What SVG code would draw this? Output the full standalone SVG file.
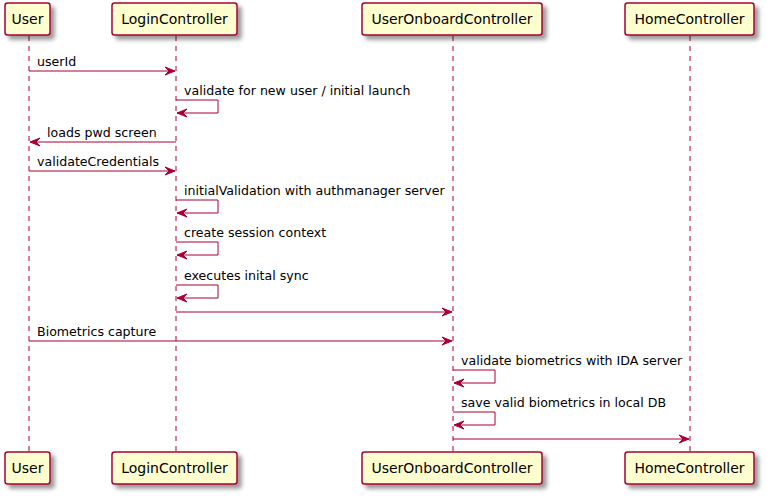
<svg xmlns="http://www.w3.org/2000/svg" width="767" height="499" viewBox="0 0 767 499">
<defs>
<filter id="sh" x="-1" y="-1" width="300%" height="300%">
<feGaussianBlur result="b" stdDeviation="2"/>
<feColorMatrix type="matrix" in="b" result="c" values="0 0 0 0 0 0 0 0 0 0 0 0 0 0 0 0 0 0 0.4 0"/>
<feOffset result="o" dx="4" dy="4" in="c"/>
<feBlend in="SourceGraphic" in2="o" mode="normal"/>
</filter>
<style>
.box{fill:#FEFECE;stroke:#A80036;stroke-width:1.5;filter:url(#sh)}
.pt{font-family:"DejaVu Sans",sans-serif;font-size:14px;fill:#000;text-anchor:middle}
.life{stroke:#A80036;stroke-width:1;stroke-dasharray:5,5;fill:none}
.m{stroke:#A80036;stroke-width:1;fill:none}
.ah{fill:#A80036;stroke:#A80036;stroke-width:1}
.mt{font-family:"DejaVu Sans",sans-serif;font-size:12.6px;fill:#000}
</style>
</defs>
<rect width="767" height="499" fill="#FFFFFF"/>
<g id="lifelines">
<line class="life" x1="29" y1="36" x2="29" y2="452"/>
<line class="life" x1="176" y1="36" x2="176" y2="452"/>
<line class="life" x1="453" y1="36" x2="453" y2="452"/>
<line class="life" x1="690" y1="36" x2="690" y2="452"/>
</g>
<g id="User">
<rect class="box" x="5" y="3" width="45" height="32" rx="2.5"/>
<text class="pt" x="27.5" y="24">User</text>
<rect class="box" x="5" y="452" width="45" height="32" rx="2.5"/>
<text class="pt" x="27.5" y="473">User</text>
</g>
<g id="LoginController">
<rect class="box" x="112" y="3" width="125" height="32" rx="2.5"/>
<text class="pt" x="174.5" y="24">LoginController</text>
<rect class="box" x="112" y="452" width="125" height="32" rx="2.5"/>
<text class="pt" x="174.5" y="473">LoginController</text>
</g>
<g id="UserOnboardController">
<rect class="box" x="362" y="3" width="180" height="32" rx="2.5"/>
<text class="pt" x="452" y="24">UserOnboardController</text>
<rect class="box" x="362" y="452" width="180" height="32" rx="2.5"/>
<text class="pt" x="452" y="473">UserOnboardController</text>
</g>
<g id="HomeController">
<rect class="box" x="625" y="3" width="129" height="32" rx="2.5"/>
<text class="pt" x="689.5" y="24">HomeController</text>
<rect class="box" x="625" y="452" width="129" height="32" rx="2.5"/>
<text class="pt" x="689.5" y="473">HomeController</text>
</g>
<g id="connectors">
<line class="m" x1="29" y1="71" x2="175" y2="71"/>
<polygon class="ah" points="165,67 175,71 165,75 169,71"/>
<text class="mt" x="37" y="66">userId</text>

<polyline class="m" points="176,100 218,100 218,113 177,113"/>
<polygon class="ah" points="187,109 177,113 187,117 183,113"/>
<text class="mt" x="184" y="95">validate for new user / initial launch</text>

<line class="m" x1="30" y1="142" x2="176" y2="142"/>
<polygon class="ah" points="40,138 30,142 40,146 36,142"/>
<text class="mt" x="47" y="137">loads pwd screen</text>

<line class="m" x1="29" y1="171" x2="175" y2="171"/>
<polygon class="ah" points="165,167 175,171 165,175 169,171"/>
<text class="mt" x="37" y="166">validateCredentials</text>

<polyline class="m" points="176,200 218,200 218,213 177,213"/>
<polygon class="ah" points="187,209 177,213 187,217 183,213"/>
<text class="mt" x="184" y="195">initialValidation with authmanager server</text>

<polyline class="m" points="176,242 218,242 218,255 177,255"/>
<polygon class="ah" points="187,251 177,255 187,259 183,255"/>
<text class="mt" x="184" y="237">create session context</text>

<polyline class="m" points="176,285 218,285 218,298 177,298"/>
<polygon class="ah" points="187,294 177,298 187,302 183,298"/>
<text class="mt" x="184" y="280">executes inital sync</text>

<line class="m" x1="176" y1="312" x2="452" y2="312"/>
<polygon class="ah" points="442,308 452,312 442,316 446,312"/>

<line class="m" x1="29" y1="341" x2="452" y2="341"/>
<polygon class="ah" points="442,337 452,341 442,345 446,341"/>
<text class="mt" x="37" y="336">Biometrics capture</text>

<polyline class="m" points="453,370 495,370 495,383 454,383"/>
<polygon class="ah" points="464,379 454,383 464,387 460,383"/>
<text class="mt" x="461" y="365">validate biometrics with IDA server</text>

<polyline class="m" points="453,412 495,412 495,425 454,425"/>
<polygon class="ah" points="464,421 454,425 464,429 460,425"/>
<text class="mt" x="461" y="407">save valid biometrics in local DB</text>

<line class="m" x1="453" y1="439" x2="689" y2="439"/>
<polygon class="ah" points="679,435 689,439 679,443 683,439"/>
</g>
</svg>
